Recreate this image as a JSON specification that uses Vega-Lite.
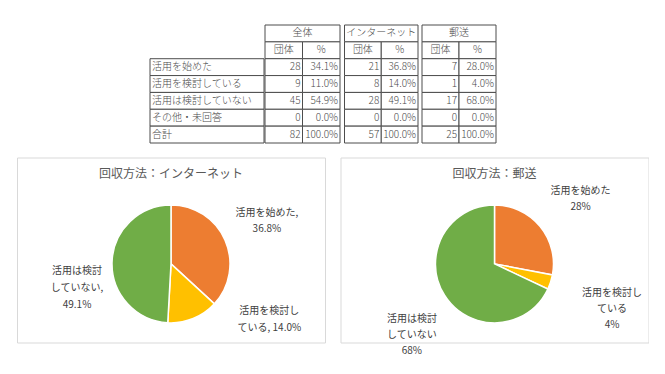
{
  "$schema": "https://vega.github.io/schema/vega-lite/v6.json",
  "padding": {"left": 16, "top": 24, "right": 0, "bottom": 0},
  "background": "white",
  "config": {
    "font": "Noto Sans CJK JP",
    "view": {"stroke": null},
    "text": {"font": "Noto Sans CJK JP"},
    "title": {"font": "Noto Sans CJK JP"}
  },
  "datasets": {
    "table": [
      {"group": "全体", "code": 1, "status": "活用を始めた", "count": 28, "pct": 0.341},
      {"group": "全体", "code": 2, "status": "活用を検討している", "count": 9, "pct": 0.110},
      {"group": "全体", "code": 3, "status": "活用は検討していない", "count": 45, "pct": 0.549},
      {"group": "全体", "code": 4, "status": "その他・未回答", "count": 0, "pct": 0},
      {"group": "全体", "code": 5, "status": "合計", "count": 82, "pct": 1.0},
      {"group": "インターネット", "code": 1, "status": "活用を始めた", "count": 21, "pct": 0.368},
      {"group": "インターネット", "code": 2, "status": "活用を検討している", "count": 8, "pct": 0.140},
      {"group": "インターネット", "code": 3, "status": "活用は検討していない", "count": 28, "pct": 0.491},
      {"group": "インターネット", "code": 4, "status": "その他・未回答", "count": 0, "pct": 0},
      {"group": "インターネット", "code": 5, "status": "合計", "count": 57, "pct": 1.0},
      {"group": "郵送", "code": 1, "status": "活用を始めた", "count": 7, "pct": 0.28},
      {"group": "郵送", "code": 2, "status": "活用を検討している", "count": 1, "pct": 0.04},
      {"group": "郵送", "code": 3, "status": "活用は検討していない", "count": 17, "pct": 0.68},
      {"group": "郵送", "code": 4, "status": "その他・未回答", "count": 0, "pct": 0},
      {"group": "郵送", "code": 5, "status": "合計", "count": 25, "pct": 1.0}
    ],
    "headers": [{"group": "全体"}, {"group": "インターネット"}, {"group": "郵送"}],
    "cols": [{"col": "団体"}, {"col": "%"}],
    "pie": [
      {"panel": "インターネット", "code": 1, "status": "活用を始めた", "count": 21, "label": "活用を始めた,\n36.8%"},
      {"panel": "インターネット", "code": 2, "status": "活用を検討している", "count": 8, "label": "活用を検討し\nている, 14.0%"},
      {"panel": "インターネット", "code": 3, "status": "活用は検討していない", "count": 28, "label": "活用は検討\nしていない,\n49.1%"},
      {"panel": "郵送", "code": 1, "status": "活用を始めた", "count": 7, "label": "活用を始めた\n28%"},
      {"panel": "郵送", "code": 2, "status": "活用を検討している", "count": 1, "label": "活用を検討し\nている\n4%"},
      {"panel": "郵送", "code": 3, "status": "活用は検討していない", "count": 17, "label": "活用は検討\nしていない\n68%"}
    ]
  },
  "spacing": 12.5,
  "vconcat": [
    {
      "spacing": 2.5,
      "resolve": {"scale": {"x": "independent", "y": "independent"}},
      "hconcat": [
        {
          "spacing": -1,
          "resolve": {"scale": {"x": "independent", "y": "independent"}},
          "hconcat": [
            {"width": 132.5, "height": 118, "data": {"values": []}, "mark": "point"},
            {
              "width": 114, "height": 118,
              "data": {"name": "table"},
              "transform": [{"filter": "datum.group === '全体'"}],
              "encoding": {"y": {"field": "status", "type": "nominal", "scale": {"type": "band", "domain": ["h1", "h2", "活用を始めた", "活用を検討している", "活用は検討していない", "その他・未回答", "合計"], "paddingInner": 0, "paddingOuter": 0}, "axis": null}},
              "layer": [
                {"mark": {"type": "rect", "fill": "white", "stroke": "#4d4d4d", "strokeWidth": 1}},
                {"mark": {"type": "text", "align": "left", "baseline": "middle", "dx": 2, "fontSize": 10, "fontWeight": 300, "color": "#4a4a4a"},
                 "encoding": {"x": {"datum": 0, "type": "quantitative", "scale": {"domain": [0, 1]}, "axis": null}, "text": {"field": "status"}}}
              ]
            },
            {
              "width": 75, "height": 118,
              "layer": [
                {"data": {"name": "headers"}, "transform": [{"filter": "datum.group === '全体'"}],
                 "mark": {"type": "rect", "fill": "white", "stroke": "#4d4d4d", "strokeWidth": 1},
                 "encoding": {"y": {"datum": "h1", "type": "nominal", "scale": {"type": "band", "domain": ["h1", "h2", "活用を始めた", "活用を検討している", "活用は検討していない", "その他・未回答", "合計"], "paddingInner": 0, "paddingOuter": 0}, "axis": null}}},
                {"data": {"name": "headers"}, "transform": [{"filter": "datum.group === '全体'"}],
                 "mark": {"type": "text", "baseline": "middle", "fontSize": 10, "fontWeight": 300, "color": "#4a4a4a"},
                 "encoding": {"y": {"datum": "h1", "type": "nominal"}, "text": {"field": "group"}}},
                {"data": {"name": "cols"},
                 "mark": {"type": "rect", "fill": "white", "stroke": "#4d4d4d", "strokeWidth": 1},
                 "encoding": {"x": {"field": "col", "type": "nominal", "scale": {"type": "band", "domain": ["団体", "%"], "paddingInner": 0, "paddingOuter": 0}, "axis": null}, "y": {"datum": "h2", "type": "nominal"}}},
                {"data": {"name": "cols"},
                 "mark": {"type": "text", "baseline": "middle", "fontSize": 10, "fontWeight": 300, "color": "#4a4a4a"},
                 "encoding": {"x": {"field": "col", "type": "nominal"}, "y": {"datum": "h2", "type": "nominal"}, "text": {"field": "col"}}},
                {"data": {"name": "table"}, "transform": [{"filter": "datum.group === '全体'"}],
                 "mark": {"type": "rect", "fill": "white", "stroke": "#4d4d4d", "strokeWidth": 1},
                 "encoding": {"x": {"datum": "団体", "type": "nominal"}, "y": {"field": "status", "type": "nominal"}}},
                {"data": {"name": "table"}, "transform": [{"filter": "datum.group === '全体'"}],
                 "mark": {"type": "rect", "fill": "white", "stroke": "#4d4d4d", "strokeWidth": 1},
                 "encoding": {"x": {"datum": "%", "type": "nominal"}, "y": {"field": "status", "type": "nominal"}}},
                {"data": {"name": "table"}, "transform": [{"filter": "datum.group === '全体'"}],
                 "mark": {"type": "text", "align": "right", "baseline": "middle", "dx": -2, "fontSize": 10, "fontWeight": 300, "color": "#4a4a4a"},
                 "encoding": {"x": {"datum": "団体", "type": "nominal", "bandPosition": 1}, "y": {"field": "status", "type": "nominal"}, "text": {"field": "count", "type": "quantitative"}}},
                {"data": {"name": "table"}, "transform": [{"filter": "datum.group === '全体'"}],
                 "mark": {"type": "text", "align": "right", "baseline": "middle", "dx": -2, "fontSize": 10, "fontWeight": 300, "color": "#4a4a4a"},
                 "encoding": {"x": {"datum": "%", "type": "nominal", "bandPosition": 1}, "y": {"field": "status", "type": "nominal"}, "text": {"field": "pct", "type": "quantitative", "format": ".1%"}}}
              ]
            }
          ]
        },
        {
          "width": 73.5, "height": 118,
          "layer": [
            {"data": {"name": "headers"}, "transform": [{"filter": "datum.group === 'インターネット'"}],
             "mark": {"type": "rect", "fill": "white", "stroke": "#4d4d4d", "strokeWidth": 1},
             "encoding": {"y": {"datum": "h1", "type": "nominal", "scale": {"type": "band", "domain": ["h1", "h2", "活用を始めた", "活用を検討している", "活用は検討していない", "その他・未回答", "合計"], "paddingInner": 0, "paddingOuter": 0}, "axis": null}}},
            {"data": {"name": "headers"}, "transform": [{"filter": "datum.group === 'インターネット'"}],
             "mark": {"type": "text", "baseline": "middle", "fontSize": 10, "fontWeight": 300, "color": "#4a4a4a"},
             "encoding": {"y": {"datum": "h1", "type": "nominal"}, "text": {"field": "group"}}},
            {"data": {"name": "cols"},
             "mark": {"type": "rect", "fill": "white", "stroke": "#4d4d4d", "strokeWidth": 1},
             "encoding": {"x": {"field": "col", "type": "nominal", "scale": {"type": "band", "domain": ["団体", "%"], "paddingInner": 0, "paddingOuter": 0}, "axis": null}, "y": {"datum": "h2", "type": "nominal"}}},
            {"data": {"name": "cols"},
             "mark": {"type": "text", "baseline": "middle", "fontSize": 10, "fontWeight": 300, "color": "#4a4a4a"},
             "encoding": {"x": {"field": "col", "type": "nominal"}, "y": {"datum": "h2", "type": "nominal"}, "text": {"field": "col"}}},
            {"data": {"name": "table"}, "transform": [{"filter": "datum.group === 'インターネット'"}],
             "mark": {"type": "rect", "fill": "white", "stroke": "#4d4d4d", "strokeWidth": 1},
             "encoding": {"x": {"datum": "団体", "type": "nominal"}, "y": {"field": "status", "type": "nominal"}}},
            {"data": {"name": "table"}, "transform": [{"filter": "datum.group === 'インターネット'"}],
             "mark": {"type": "rect", "fill": "white", "stroke": "#4d4d4d", "strokeWidth": 1},
             "encoding": {"x": {"datum": "%", "type": "nominal"}, "y": {"field": "status", "type": "nominal"}}},
            {"data": {"name": "table"}, "transform": [{"filter": "datum.group === 'インターネット'"}],
             "mark": {"type": "text", "align": "right", "baseline": "middle", "dx": -2, "fontSize": 10, "fontWeight": 300, "color": "#4a4a4a"},
             "encoding": {"x": {"datum": "団体", "type": "nominal", "bandPosition": 1}, "y": {"field": "status", "type": "nominal"}, "text": {"field": "count", "type": "quantitative"}}},
            {"data": {"name": "table"}, "transform": [{"filter": "datum.group === 'インターネット'"}],
             "mark": {"type": "text", "align": "right", "baseline": "middle", "dx": -2, "fontSize": 10, "fontWeight": 300, "color": "#4a4a4a"},
             "encoding": {"x": {"datum": "%", "type": "nominal", "bandPosition": 1}, "y": {"field": "status", "type": "nominal"}, "text": {"field": "pct", "type": "quantitative", "format": ".1%"}}}
          ]
        },
        {
          "width": 74, "height": 118,
          "layer": [
            {"data": {"name": "headers"}, "transform": [{"filter": "datum.group === '郵送'"}],
             "mark": {"type": "rect", "fill": "white", "stroke": "#4d4d4d", "strokeWidth": 1},
             "encoding": {"y": {"datum": "h1", "type": "nominal", "scale": {"type": "band", "domain": ["h1", "h2", "活用を始めた", "活用を検討している", "活用は検討していない", "その他・未回答", "合計"], "paddingInner": 0, "paddingOuter": 0}, "axis": null}}},
            {"data": {"name": "headers"}, "transform": [{"filter": "datum.group === '郵送'"}],
             "mark": {"type": "text", "baseline": "middle", "fontSize": 10, "fontWeight": 300, "color": "#4a4a4a"},
             "encoding": {"y": {"datum": "h1", "type": "nominal"}, "text": {"field": "group"}}},
            {"data": {"name": "cols"},
             "mark": {"type": "rect", "fill": "white", "stroke": "#4d4d4d", "strokeWidth": 1},
             "encoding": {"x": {"field": "col", "type": "nominal", "scale": {"type": "band", "domain": ["団体", "%"], "paddingInner": 0, "paddingOuter": 0}, "axis": null}, "y": {"datum": "h2", "type": "nominal"}}},
            {"data": {"name": "cols"},
             "mark": {"type": "text", "baseline": "middle", "fontSize": 10, "fontWeight": 300, "color": "#4a4a4a"},
             "encoding": {"x": {"field": "col", "type": "nominal"}, "y": {"datum": "h2", "type": "nominal"}, "text": {"field": "col"}}},
            {"data": {"name": "table"}, "transform": [{"filter": "datum.group === '郵送'"}],
             "mark": {"type": "rect", "fill": "white", "stroke": "#4d4d4d", "strokeWidth": 1},
             "encoding": {"x": {"datum": "団体", "type": "nominal"}, "y": {"field": "status", "type": "nominal"}}},
            {"data": {"name": "table"}, "transform": [{"filter": "datum.group === '郵送'"}],
             "mark": {"type": "rect", "fill": "white", "stroke": "#4d4d4d", "strokeWidth": 1},
             "encoding": {"x": {"datum": "%", "type": "nominal"}, "y": {"field": "status", "type": "nominal"}}},
            {"data": {"name": "table"}, "transform": [{"filter": "datum.group === '郵送'"}],
             "mark": {"type": "text", "align": "right", "baseline": "middle", "dx": -2, "fontSize": 10, "fontWeight": 300, "color": "#4a4a4a"},
             "encoding": {"x": {"datum": "団体", "type": "nominal", "bandPosition": 1}, "y": {"field": "status", "type": "nominal"}, "text": {"field": "count", "type": "quantitative"}}},
            {"data": {"name": "table"}, "transform": [{"filter": "datum.group === '郵送'"}],
             "mark": {"type": "text", "align": "right", "baseline": "middle", "dx": -2, "fontSize": 10, "fontWeight": 300, "color": "#4a4a4a"},
             "encoding": {"x": {"datum": "%", "type": "nominal", "bandPosition": 1}, "y": {"field": "status", "type": "nominal"}, "text": {"field": "pct", "type": "quantitative", "format": ".1%"}}}
          ]
        }
      ]
    },
    {
      "spacing": 13.5,
      "resolve": {"scale": {"x": "independent", "y": "independent", "theta": "independent", "color": "independent"}},
      "hconcat": [
        {
          "width": 308, "height": 185,
          "view": {"stroke": "#d9d9d9", "strokeWidth": 1},
          "encoding": {
            "x": {"datum": "c", "type": "nominal", "axis": null},
            "y": {"datum": "c", "type": "nominal", "scale": {"align": 0.575}, "axis": null}
          },
          "layer": [
            {"data": {"values": [{"title": "回収方法：インターネット"}]},
             "mark": {"type": "text", "dy": -90, "fontSize": 12, "baseline": "middle", "align": "center"},
             "encoding": {"text": {"field": "title"}, "color": {"value": "#595959"}}},
            {
              "data": {"name": "pie"},
              "transform": [{"filter": "datum.panel === 'インターネット'"}],
              "encoding": {
                "theta": {"field": "count", "type": "quantitative", "stack": true},
                "order": {"field": "code", "type": "quantitative", "sort": "ascending"},
                "color": {"field": "status", "type": "nominal", "scale": {"domain": ["活用を始めた", "活用を検討している", "活用は検討していない"], "range": ["#ED7D31", "#FFC000", "#70AD47"]}, "legend": null}
              },
              "layer": [
                {"mark": {"type": "arc", "outerRadius": 59, "stroke": "white", "strokeWidth": 1.5}},
                {"mark": {"type": "text", "radius": 108, "dx": -3, "dy": -7, "lineBreak": "\n", "lineHeight": 16, "fontSize": 10, "baseline": "middle", "align": "center"},
                 "encoding": {"color": {"value": "#404040"}, "text": {"condition": {"test": "datum.code === 1", "field": "label"}, "value": ""}}},
                {"mark": {"type": "text", "radius": 70, "dx": 72, "dy": -17.5, "lineBreak": "\n", "lineHeight": 17, "fontSize": 10, "baseline": "middle", "align": "center"},
                 "encoding": {"color": {"value": "#404040"}, "text": {"condition": {"test": "datum.code === 2", "field": "label"}, "value": ""}}},
                {"mark": {"type": "text", "radius": 94, "dx": 0, "dy": 10, "lineBreak": "\n", "lineHeight": 17, "fontSize": 10, "baseline": "middle", "align": "center"},
                 "encoding": {"color": {"value": "#404040"}, "text": {"condition": {"test": "datum.code === 3", "field": "label"}, "value": ""}}}
              ]
            }
          ]
        },
        {
          "width": 308, "height": 185,
          "view": {"stroke": "#d9d9d9", "strokeWidth": 1},
          "encoding": {
            "x": {"datum": "c", "type": "nominal", "axis": null},
            "y": {"datum": "c", "type": "nominal", "scale": {"align": 0.575}, "axis": null}
          },
          "layer": [
            {"data": {"values": [{"title": "回収方法：郵送"}]},
             "mark": {"type": "text", "dy": -90, "fontSize": 12, "baseline": "middle", "align": "center"},
             "encoding": {"text": {"field": "title"}, "color": {"value": "#595959"}}},
            {
              "data": {"name": "pie"},
              "transform": [{"filter": "datum.panel === '郵送'"}],
              "encoding": {
                "theta": {"field": "count", "type": "quantitative", "stack": true},
                "order": {"field": "code", "type": "quantitative", "sort": "ascending"},
                "color": {"field": "status", "type": "nominal", "scale": {"domain": ["活用を始めた", "活用を検討している", "活用は検討していない"], "range": ["#ED7D31", "#FFC000", "#70AD47"]}, "legend": null}
              },
              "layer": [
                {"mark": {"type": "arc", "outerRadius": 59, "stroke": "white", "strokeWidth": 1.5}},
                {"mark": {"type": "text", "radius": 113, "dx": -1, "dy": -1, "lineBreak": "\n", "lineHeight": 16, "fontSize": 10, "baseline": "middle", "align": "center"},
                 "encoding": {"color": {"value": "#404040"}, "text": {"condition": {"test": "datum.code === 1", "field": "label"}, "value": ""}}},
                {"mark": {"type": "text", "radius": 121, "dx": 2.5, "dy": -8, "lineBreak": "\n", "lineHeight": 16, "fontSize": 10, "baseline": "middle", "align": "center"},
                 "encoding": {"color": {"value": "#404040"}, "text": {"condition": {"test": "datum.code === 2", "field": "label"}, "value": ""}}},
                {"mark": {"type": "text", "radius": 99, "dx": 1, "dy": 2, "lineBreak": "\n", "lineHeight": 16, "fontSize": 10, "baseline": "middle", "align": "center"},
                 "encoding": {"color": {"value": "#404040"}, "text": {"condition": {"test": "datum.code === 3", "field": "label"}, "value": ""}}}
              ]
            }
          ]
        }
      ]
    }
  ]
}
